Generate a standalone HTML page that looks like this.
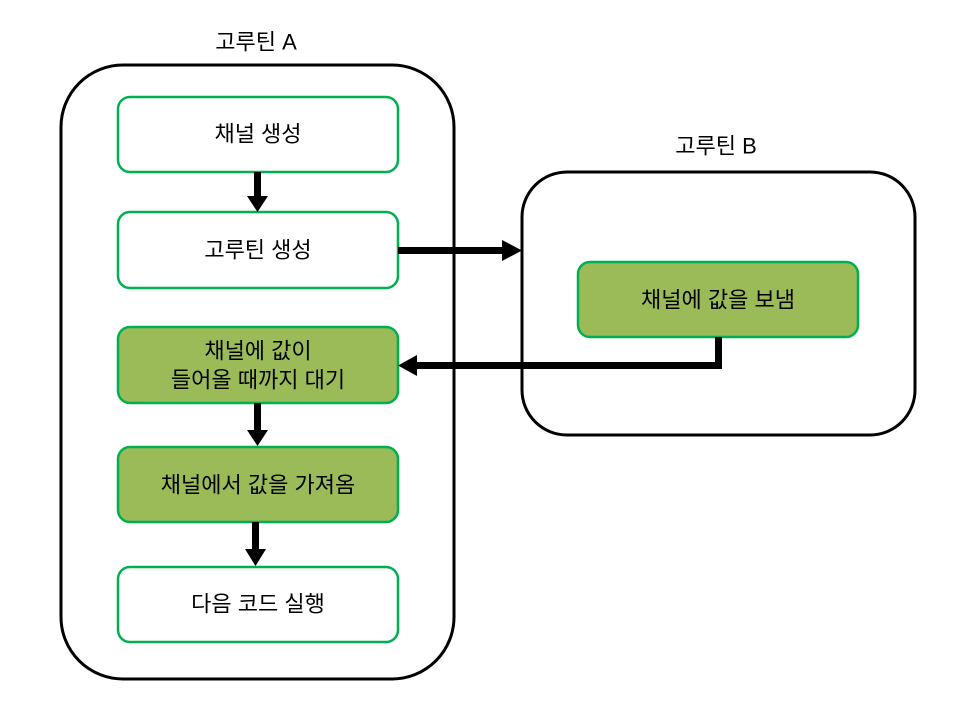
<!DOCTYPE html>
<html><head><meta charset="utf-8"><style>
html,body{margin:0;padding:0;background:#fff;}
svg text{font-family:"Liberation Sans","Noto Sans CJK KR",sans-serif;font-size:22px;fill:#000;text-anchor:middle;dominant-baseline:central;}
</style></head><body>
<svg width="960" height="720" viewBox="0 0 960 720" xmlns="http://www.w3.org/2000/svg">
<rect x="61" y="65" width="393" height="614" rx="62" fill="#fff" stroke="#000" stroke-width="3"/>
<rect x="522" y="172" width="393" height="263" rx="45" fill="#fff" stroke="#000" stroke-width="3"/>
<text x="256" y="42">고루틴 A</text>
<text x="716" y="146">고루틴 B</text>
<g stroke="#00b050" stroke-width="2.5">
<rect x="118" y="97" width="280" height="75" rx="12" fill="#fff"/>
<rect x="118" y="212" width="280" height="76" rx="12" fill="#fff"/>
<rect x="118" y="327" width="280" height="76" rx="12" fill="#9bbb59"/>
<rect x="118" y="447" width="280" height="75" rx="12" fill="#9bbb59"/>
<rect x="118" y="567" width="280" height="75" rx="12" fill="#fff"/>
<rect x="578" y="262" width="280" height="75" rx="12" fill="#9bbb59"/>
</g>
<text x="258" y="134">채널 생성</text>
<text x="258" y="250">고루틴 생성</text>
<text x="258" y="351">채널에 값이</text>
<text x="258" y="380">들어올 때까지 대기</text>
<text x="258" y="485">채널에서 값을 가져옴</text>
<text x="258" y="604">다음 코드 실행</text>
<text x="718" y="300">채널에 값을 보냄</text>
<g fill="#000">
<rect x="254" y="172" width="7" height="25"/><polygon points="247,196 268,196 257.5,212"/>
<rect x="254" y="403" width="7" height="28"/><polygon points="247,430 268,430 257.5,446"/>
<rect x="252" y="522" width="7" height="28"/><polygon points="245,549 266,549 255.5,566"/>
<rect x="398" y="247" width="105" height="7"/><polygon points="502,240 502,261 522,250.5"/>
<rect x="715" y="337" width="7" height="32"/><rect x="416" y="362" width="306" height="7"/><polygon points="417,355 417,376 398,365.5"/>
</g>
</svg>
</body></html>
